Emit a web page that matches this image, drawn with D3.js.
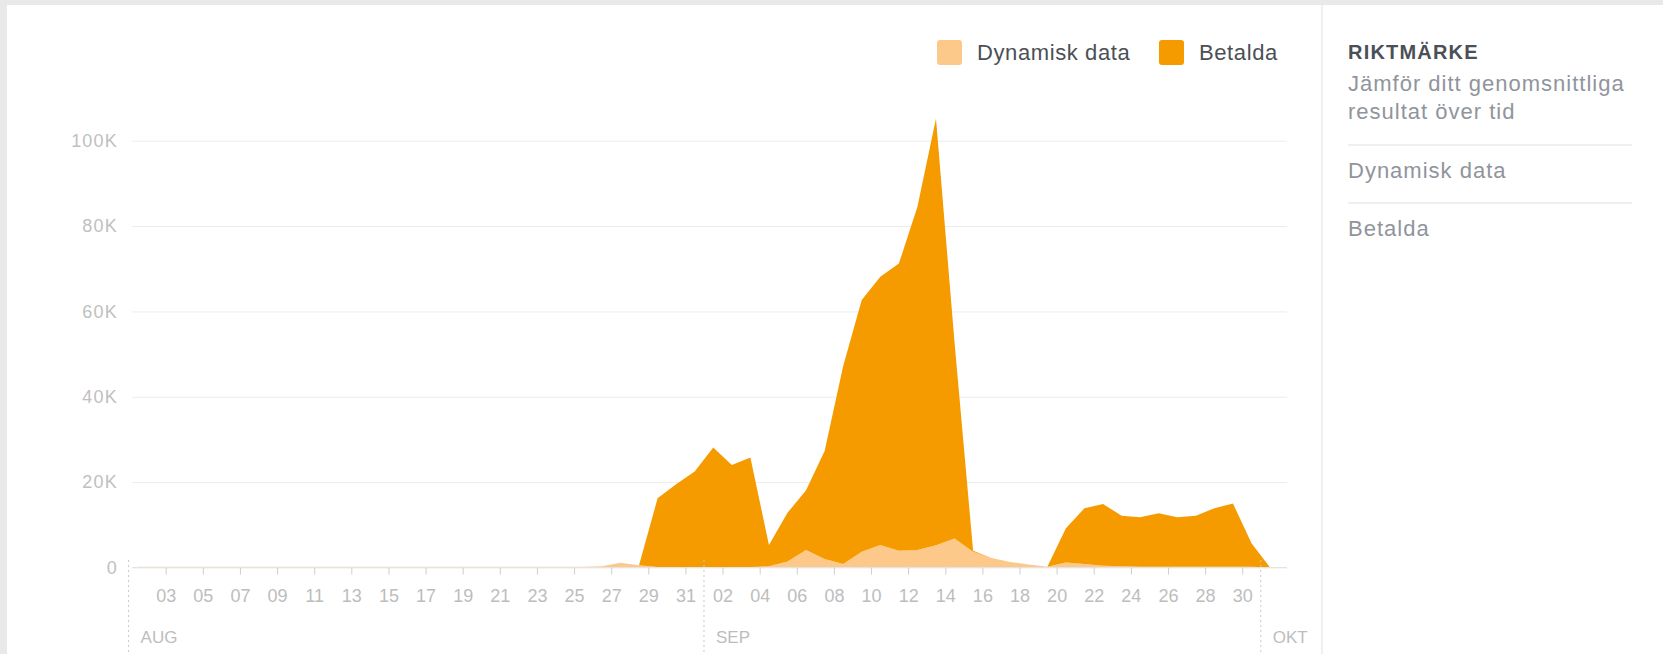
<!DOCTYPE html>
<html>
<head>
<meta charset="utf-8">
<script src="https://cdn.jsdelivr.net/npm/d3@7"></script>
<style>
  html, body { margin: 0; padding: 0; background: #e9e9e9; }
  svg { display: block; }
  text { font-family: Arial, "Liberation Sans", Helvetica, sans-serif; }
</style>
</head>
<body>
<svg id="chart" width="1663" height="654"></svg>
<script>
// ---------- data ----------
const startDay = "2018-08-01";
const endDay = "2018-10-01";
const seriesNames = ["Dynamisk data", "Betalda"];
// daily values, Aug 1 .. Oct 1
const dynamiskData = [
  150,150,150,150,150,150,150,150,150,150,
  150,150,150,150,150,150,150,150,150,150,
  150,150,150,150,150,300,1100,500,100,100,
  100,
  100,100,100,300,1400,4100,2000,800,3700,5300,
  3900,4100,5200,6800,3700,2200,1300,700,200,1200,
  800,400,300,200,200,200,200,200,200,200,
  0
];
const betalda = [
  0,0,0,0,0,0,0,0,0,0,
  0,0,0,0,0,0,0,0,0,0,
  0,0,0,0,0,0,0,0,16100,19400,
  22400,
  28000,23900,25700,5000,11400,14000,25300,46400,59000,62800,
  67300,80400,100000,45900,200,0,0,0,0,8000,
  13100,14500,11800,11600,12500,11600,11900,13700,14800,5500,
  0
];
const xTickLabels = ["03","05","07","09","11","13","15","17","19","21","23","25","27","29","31",
                     "02","04","06","08","10","12","14","16","18","20","22","24","26","28","30"];
const monthLabels = ["AUG","SEP","OKT"];
const yTickValues = [0, 20000, 40000, 60000, 80000, 100000];
const yTickLabels = ["0","20K","40K","60K","80K","100K"];
const panelTitle = "RIKTMÄRKE";
const panelText = ["Jämför ditt genomsnittliga", "resultat över tid"];
const panelItems = ["Dynamisk data", "Betalda"];
const colors = ["#fcc98b", "#f59b00"];

// ---------- setup ----------
const svg = d3.select("#chart");
const W = 1663, H = 654;
svg.append("rect").attr("x", 7).attr("y", 5).attr("width", W - 7).attr("height", H - 5).attr("fill", "#fff");

const days = d3.utcDay.range(new Date(startDay + "T00:00:00Z"), d3.utcDay.offset(new Date(endDay + "T00:00:00Z"), 1));
const rows = days.map((d, i) => ({ date: d3.utcHour.offset(d, 12), dyn: dynamiskData[i], paid: betalda[i] }));

const plotL = 132, plotR = 1287;
const x = d3.scaleUtc()
  .domain([new Date(startDay + "T00:00:00Z"), new Date(endDay + "T00:00:00Z")])
  .range([128.6, 1260.8]);
const y = d3.scaleLinear().domain([0, 100000]).range([567.5, 140.7]);

// y axis with gridlines
const yAxis = d3.axisLeft(y)
  .tickValues(yTickValues)
  .tickFormat((d, i) => yTickLabels[i])
  .tickSize(-(plotR - plotL))
  .tickPadding(14);
const gy = svg.append("g").attr("transform", `translate(${plotL},0)`).call(yAxis);
gy.select(".domain").remove();
gy.selectAll(".tick line").attr("stroke", "#ececec").attr("stroke-width", 1);
gy.selectAll(".tick text").attr("fill", "#c0c0c0").style("font-size", "18px").style("letter-spacing", "1.2px");

// stacked areas
const stack = d3.stack().keys(["dyn", "paid"]);
const stacked = stack(rows);
const area = d3.area()
  .x(d => x(d.data.date))
  .y0(d => y(d[0]))
  .y1(d => y(d[1]))
  .curve(d3.curveLinear);
svg.append("g").selectAll("path").data(stacked).join("path")
  .attr("d", area)
  .attr("fill", (d, i) => colors[i]);

// baseline
svg.append("line").attr("x1", plotL).attr("x2", plotR).attr("y1", y(0)).attr("y2", y(0))
  .attr("stroke", "#e4e4e4");

// x axis ticks
const tickDates = d3.utcDay.range(new Date("2018-08-03T00:00:00Z"), new Date(endDay + "T00:00:00Z"), 2);
const xAxis = d3.axisBottom(x)
  .tickValues(tickDates)
  .tickFormat((d, i) => xTickLabels[i])
  .tickSize(7)
  .tickPadding(15);
const gx = svg.append("g").attr("transform", `translate(0,${y(0)})`).call(xAxis);
gx.select(".domain").remove();
gx.selectAll(".tick line").attr("stroke", "#cfcfcf");
gx.selectAll(".tick text").attr("fill", "#bdbdbd").style("font-size", "18px");

// month separators
const monthStarts = d3.utcMonth.range(new Date(startDay + "T00:00:00Z"), d3.utcDay.offset(new Date(endDay + "T00:00:00Z"), 1));
monthStarts.forEach((m, i) => {
  const mx = x(m);
  svg.append("line").attr("x1", mx).attr("x2", mx).attr("y1", 560).attr("y2", 652)
    .attr("stroke", "#c8c8c8").attr("stroke-dasharray", "2,3");
  svg.append("text").attr("x", mx + 12).attr("y", 643).text(monthLabels[i])
    .attr("fill", "#bdbdbd").style("font-size", "17px");
});

// legend
const legend = [{ x: 937, name: seriesNames[0], c: colors[0] }, { x: 1159, name: seriesNames[1], c: colors[1] }];
legend.forEach(l => {
  svg.append("rect").attr("x", l.x).attr("y", 40).attr("width", 25).attr("height", 25).attr("rx", 3)
    .attr("fill", l.c);
  svg.append("text").attr("x", l.x + 40).attr("y", 52.5).attr("dy", "0.35em").text(l.name)
    .attr("fill", "#4b4f56").style("font-size", "22px").style("letter-spacing", "0.6px");
});

// right panel
svg.append("line").attr("x1", 1322).attr("x2", 1322).attr("y1", 5).attr("y2", H).attr("stroke", "#dddfe2");
svg.append("text").attr("x", 1348).attr("y", 52).attr("dy", "0.35em").text(panelTitle)
  .attr("fill", "#4b4f56").style("font-size", "20px").style("font-weight", "bold").style("letter-spacing", "1.2px");
panelText.forEach((t, i) => {
  svg.append("text").attr("x", 1348).attr("y", 83 + i * 28.5).attr("dy", "0.35em").text(t)
    .attr("fill", "#90949c").style("font-size", "22px").style("letter-spacing", "1px");
});
[145, 203].forEach(yy => {
  svg.append("line").attr("x1", 1348).attr("x2", 1632).attr("y1", yy).attr("y2", yy).attr("stroke", "#dddfe2");
});
panelItems.forEach((t, i) => {
  svg.append("text").attr("x", 1348).attr("y", 170 + i * 58).attr("dy", "0.35em").text(t)
    .attr("fill", "#90949c").style("font-size", "22px").style("letter-spacing", "1px");
});
</script>
</body>
</html>
